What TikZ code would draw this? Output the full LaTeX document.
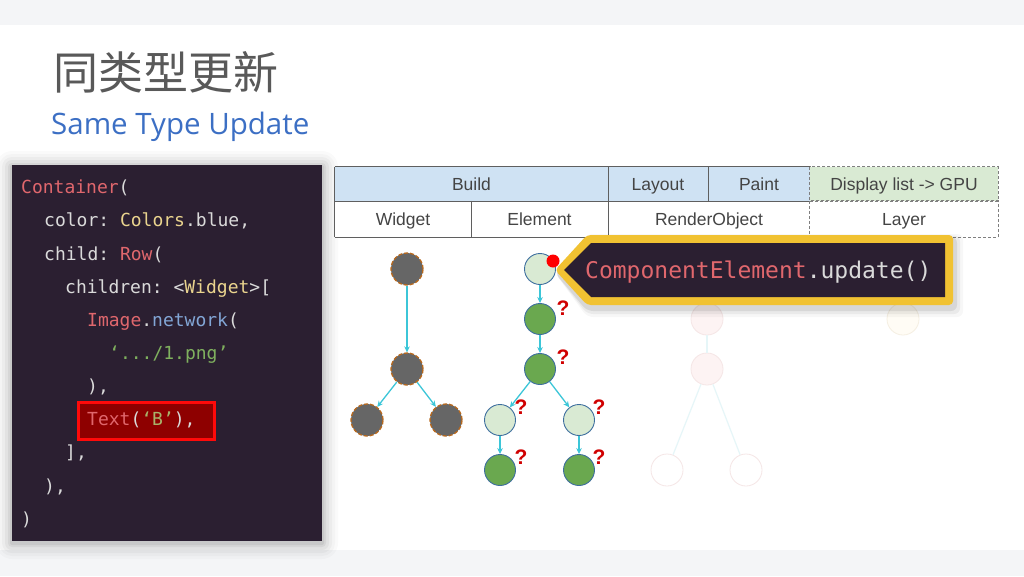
\documentclass[tikz,border=0pt]{standalone}
\usepackage{fontspec}
\setmainfont{Liberation Sans}
\setmonofont{DejaVu Sans Mono}
\newfontfamily\cjk{Noto Sans CJK SC}
\newfontfamily\subfont{Open Sans}
\usetikzlibrary{arrows.meta}
\definecolor{bandgray}{HTML}{F4F5F7}
\definecolor{codebg}{HTML}{2B1F31}
\definecolor{codefg}{HTML}{DADADA}
\definecolor{cred}{HTML}{E0676D}
\definecolor{cyel}{HTML}{EAD48E}
\definecolor{cblue}{HTML}{82A6D6}
\definecolor{cgreen}{HTML}{7FB05E}
\definecolor{colive}{HTML}{A9B36A}
\definecolor{hlred}{HTML}{FF0A0A}
\definecolor{hldark}{HTML}{8E0000}
\definecolor{titlegray}{HTML}{595959}
\definecolor{subblue}{HTML}{3C6FC4}
\definecolor{tabblue}{HTML}{CFE2F3}
\definecolor{tabgreen}{HTML}{D9EAD3}
\definecolor{tabline}{HTML}{5F5F5F}
\definecolor{tabtext}{HTML}{444444}
\definecolor{wgray}{HTML}{666666}
\definecolor{worange}{HTML}{B8691E}
\definecolor{elight}{HTML}{D9EAD3}
\definecolor{egreen}{HTML}{6AA84F}
\definecolor{eborder}{HTML}{3D6E9E}
\definecolor{acyan}{HTML}{3CC6D8}
\definecolor{qred}{HTML}{D00000}
\definecolor{cyellow}{HTML}{F1C232}
\definecolor{fpink}{HTML}{FDF3F3}
\definecolor{fpinkb}{HTML}{F5E6E6}
\definecolor{fcream}{HTML}{FFFCF5}
\definecolor{fcreamb}{HTML}{F5EFE2}
\definecolor{fcyan}{HTML}{E6F6F8}
\tikzset{
  code/.style={anchor=base west, inner sep=0, font=\ttfamily\fontsize{18}{20}\selectfont, text=codefg},
  cell/.style={inner sep=0, font=\fontsize{17.5}{20}\selectfont, text=tabtext, text height=15pt, text depth=3pt},
  wnode/.style={circle, fill=wgray, draw=worange, dash pattern=on 4pt off 2pt, line width=1.3pt, minimum size=32, inner sep=0},
  elnode/.style={circle, fill=elight, draw=eborder, line width=0.9pt, minimum size=31, inner sep=0},
  egnode/.style={circle, fill=egreen, draw=eborder, line width=0.9pt, minimum size=31, inner sep=0},
  fnode/.style={circle, fill=fpink, draw=fpinkb, line width=0.8pt, minimum size=32, inner sep=0},
  arr/.style={draw=acyan, line width=1.3pt, -{Stealth[length=6pt,width=5.5pt]}},
  farr/.style={draw=fcyan, line width=1.2pt},
  qm/.style={text=qred, font=\bfseries\fontsize{21}{22}\selectfont, inner sep=0},
  tline/.style={draw=tabline, line width=0.9pt},
  tdash/.style={draw=tabline!80, line width=0.9pt, dash pattern=on 3pt off 2pt}
}
\begin{document}
\begin{tikzpicture}[x=1pt,y=-1pt]
\useasboundingbox (0,0) rectangle (1024,576);
\fill[white] (0,0) rectangle (1024,576);
\fill[bandgray] (0,0) rectangle (1024,25);
\fill[bandgray] (0,550) rectangle (1024,576);

% title
\node[anchor=west, text=titlegray, font=\cjk\fontsize{45}{50}\selectfont, inner sep=0] (title) at (53,72) {同类型更新};
\node[anchor=west, text=subblue, font=\subfont\fontsize{29.5}{34}\selectfont, inner sep=0] (sub) at (51,127) {Same Type Update};

% code panel with soft shadow
\foreach \i/\o in {16/0.02,13/0.025,10/0.03,7/0.04,4/0.05,2/0.06}
  \fill[black, opacity=\o, rounded corners=\i] (12-\i,167-\i) rectangle (322+\i,543+\i);
\node[fill=codebg, minimum width=310, minimum height=376, inner sep=0] (panel) at (167,353) {};
\node[draw=hlred, fill=hldark, line width=3pt, minimum width=136, minimum height=37, inner sep=0] (hl) at (146,421) {};
\node[code] (c1) at (21,193) {\textcolor{cred}{Container}(};
\node[code] (c2) at (44,226) {color: \textcolor{cyel}{Colors}.blue,};
\node[code] (c3) at (44,260) {child: \textcolor{cred}{Row}(};
\node[code] (c4) at (65,293) {children: <\textcolor{cyel}{Widget}>[};
\node[code] (c5) at (87,326) {\textcolor{cred}{Image}.\textcolor{cblue}{network}(};
\node[code] (c6) at (109,359) {\textcolor{cgreen}{‘.../1.png’}};
\node[code] (c7) at (87,392) {),};
\node[code] (c8) at (87,425) {\textcolor{cred}{Text}(\textcolor{colive}{‘B’}),};
\node[code] (c9) at (65,458) {],};
\node[code] (c10) at (44,492) {),};
\node[code] (c11) at (21,525) {)};

% table
\node[cell, fill=tabblue, minimum width=273, minimum height=34] (build) at (471.5,184) {Build};
\node[cell, fill=tabblue, minimum width=100, minimum height=34] (layout) at (658,184) {Layout};
\node[cell, fill=tabblue, minimum width=102, minimum height=34] (paint) at (759,184) {Paint};
\node[cell, fill=tabgreen, minimum width=188, minimum height=34] (disp) at (904,184) {Display list -> GPU};
\node[cell, fill=white, minimum width=136, minimum height=36] (widget) at (403,219) {Widget};
\node[cell, fill=white, minimum width=137, minimum height=36] (element) at (539.5,219) {Element};
\node[cell, fill=white, minimum width=202, minimum height=36] (robj) at (709,219) {RenderObject};
\node[cell, fill=white, minimum width=188, minimum height=36] (layer) at (904,219) {Layer};
\draw[tline] (build.north west) -- (paint.north east);
\draw[tline] (build.south west) -- (paint.south east);
\draw[tline] (widget.south west) -- (robj.south east);
\draw[tline] (build.north west) -- (widget.south west);
\draw[tline] (build.north east) -- (build.south east);
\draw[tline] (layout.north east) -- (layout.south east);
\draw[tline] (widget.north east) -- (widget.south east);
\draw[tline] (element.north east) -- (element.south east);
\draw[tdash] (disp.north west) rectangle (disp.south east);
\draw[tdash] (layer.north west) rectangle (layer.south east);

% faint render object / layer trees
\node[fnode] (r1) at (707,319) {};
\node[fnode] (r2) at (707,369) {};
\node[fnode, fill=white] (r3) at (667,470) {};
\node[fnode, fill=white] (r4) at (746,470) {};
\node[fnode, fill=fcream, draw=fcreamb] (l1) at (903,319) {};
\draw[farr] (r1) -- (r2);
\draw[farr] (r2) -- (r3);
\draw[farr] (r2) -- (r4);

% widget tree
\node[wnode] (w1) at (407,269) {};
\node[wnode] (w2) at (407,369) {};
\node[wnode] (w3) at (367,420) {};
\node[wnode] (w4) at (446,420) {};
\draw[arr] (w1) -- (w2);
\draw[arr] (w2) -- (w3);
\draw[arr] (w2) -- (w4);

% element tree
\node[elnode] (e1) at (540,269) {};
\node[egnode] (e2) at (540,319) {};
\node[egnode] (e3) at (540,369) {};
\node[elnode] (e4) at (500,420) {};
\node[elnode] (e5) at (579,420) {};
\node[egnode] (e6) at (500,470) {};
\node[egnode] (e7) at (579,470) {};
\draw[arr] (e1) -- (e2);
\draw[arr] (e2) -- (e3);
\draw[arr] (e3) -- (e4);
\draw[arr] (e3) -- (e5);
\draw[arr] (e4) -- (e6);
\draw[arr] (e5) -- (e7);
\node[qm] (q2) at (563,308) {?};
\node[qm] (q3) at (563,357) {?};
\node[qm] (q4) at (521,407) {?};
\node[qm] (q5) at (599,407) {?};
\node[qm] (q6) at (521,457) {?};
\node[qm] (q7) at (599,457) {?};
\node[circle, fill=red, minimum size=13, inner sep=0] (dot) at (553,261) {};

% callout
\foreach \i/\o in {8/0.03,5/0.05,2/0.08}
  \fill[black, opacity=\o, rounded corners=6] (555,273) -- (587,238-\i/2) -- (955+\i,238-\i/2) -- (955+\i,309+\i) -- (587,309+\i) -- cycle;
\fill[cyellow, rounded corners=4] (555,270) -- (587,235) -- (953,235) -- (953,305) -- (587,305) -- cycle;
\fill[codebg] (564,270) -- (591,243) -- (945,243) -- (945,297) -- (591,297) -- cycle;
\node[anchor=base west, inner sep=0, font=\ttfamily\fontsize{23}{26}\selectfont, text=codefg] (callout) at (585,278) {\textcolor{cred}{ComponentElement}.update()};
\end{tikzpicture}
\end{document}
